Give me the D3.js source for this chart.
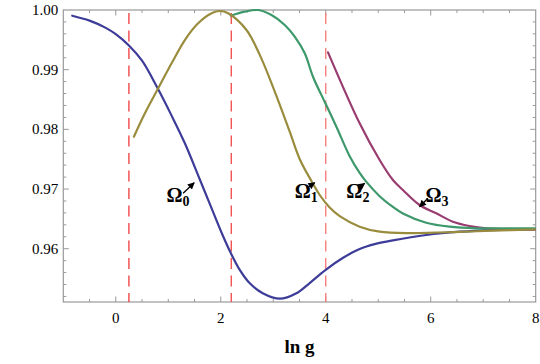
<!DOCTYPE html>
<html><head><meta charset="utf-8">
<script src="https://cdn.jsdelivr.net/npm/d3@7"></script>
<style>body{margin:0;background:#fff}svg{display:block}</style>
</head><body>
<script>
// ---- data ----
const xTicks = [0, 2, 4, 6, 8];
const yTicks = [0.96, 0.97, 0.98, 0.99, 1.00];
const dashedX = [0.25, 2.2, 4.0];

const omega0 = [[-0.83,0.99904],[-0.5,0.99822],[-0.2,0.99705],[0.0,0.99595],[0.25,0.99405],[0.5,0.9915],[0.79,0.987],[1.063,0.9823],[1.316,0.97766],[1.601,0.9716],[1.824,0.9668],[2.02,0.9626],[2.191,0.95927],[2.362,0.95645],[2.553,0.9542],[2.8,0.95255],[3.124,0.95162],[3.441,0.95253],[3.694,0.95425],[3.993,0.95643],[4.323,0.95844],[4.646,0.95995],[4.95,0.9608],[5.28,0.9614],[5.915,0.9623],[6.549,0.96285],[7.177,0.96313],[8.0,0.96325]];
const omega1 = [[0.345,0.97877],[0.555,0.98269],[0.808,0.98688],[1.063,0.99107],[1.316,0.99497],[1.569,0.99777],[1.824,0.99945],[1.982,0.99983],[2.14,0.99945],[2.49,0.99665],[2.743,0.99248],[3.029,0.98633],[3.314,0.9796],[3.505,0.975],[3.727,0.97135],[3.885,0.969],[4.075,0.9669],[4.266,0.96545],[4.646,0.96369],[5.027,0.96285],[5.598,0.96262],[6.549,0.96282],[7.177,0.96302],[8.0,0.96325]];
const omega2 = [[2.191,0.99904],[2.458,0.99972],[2.711,1.0],[2.966,0.99916],[3.219,0.99749],[3.409,0.99553],[3.6,0.99274],[3.757,0.98882],[3.993,0.98437],[4.203,0.98044],[4.456,0.9755],[4.646,0.9727],[4.774,0.9712],[5.027,0.9688],[5.28,0.967],[5.47,0.9659],[5.915,0.96436],[6.359,0.96369],[6.867,0.96342],[8.0,0.96342]];
const omega3 = [[4.043,0.99291],[4.646,0.98101],[5.027,0.97486],[5.28,0.97151],[5.47,0.96984],[5.788,0.96732],[6.106,0.96593],[6.422,0.96452],[6.739,0.9638],[7.057,0.96342],[8.0,0.96325]];

const labels = [
  {sub:"0", x:0.968, y:0.96788, ax0:[1.283,0.96928], ax1:[1.493,0.97106]},
  {sub:"1", x:3.409, y:0.96845, ax0:[3.632,0.97012], ax1:[3.79,0.97106]},
  {sub:"2", x:4.393, y:0.96845, ax0:[4.614,0.97012], ax1:[4.741,0.97096]},
  {sub:"3", x:5.902, y:0.96788, ax0:[5.946,0.96845], ax1:[5.788,0.96704]}
];

// ---- layout ----
const W = 540, H = 364;
const L = 63.3, R = 535.7, T = 10, B = 302;
const x = d3.scaleLinear().domain([-1, 8]).range([L, R]);
const y = d3.scaleLinear().domain([0.95107, 1.0]).range([B, T]);

const svg = d3.select("body").append("svg").attr("width", W).attr("height", H);
const serif = "'Liberation Serif','DejaVu Serif',serif";

const defs = svg.append("defs");
defs.append("clipPath").attr("id","clip")
  .append("rect").attr("x", L).attr("y", T-1).attr("width", R-L).attr("height", B-T+1);
defs.append("marker").attr("id","arr")
  .attr("viewBox","0 0 10 10").attr("refX",9).attr("refY",5)
  .attr("markerWidth",8).attr("markerHeight",7).attr("markerUnits","userSpaceOnUse")
  .attr("orient","auto")
  .append("path").attr("d","M0,0L10,5L0,10z").attr("fill","#000");

// frame
const frameCol = "#999";
svg.append("rect").attr("x", L).attr("y", T).attr("width", R-L).attr("height", B-T)
  .attr("fill","none").attr("stroke", frameCol).attr("stroke-width", 1.2);

// ticks (inward on all sides)
const xMinor = d3.range(-0.5, 8.01, 0.5).filter(v => v > -1 && v < 8);
const yMinor = d3.range(0.952, 1.0001, 0.002).filter(v => v < 0.9999);
const tg = svg.append("g").attr("stroke", frameCol).attr("stroke-width", 1);
xMinor.forEach(v => {
  const major = xTicks.some(t => Math.abs(t - v) < 1e-6);
  const len = major ? 5.5 : 3;
  tg.append("line").attr("x1", x(v)).attr("x2", x(v)).attr("y1", B).attr("y2", B - len);
  tg.append("line").attr("x1", x(v)).attr("x2", x(v)).attr("y1", T).attr("y2", T + len);
});
yMinor.forEach(v => {
  const major = yTicks.some(t => Math.abs(t - v) < 1e-6);
  const len = major ? 5.5 : 3;
  tg.append("line").attr("x1", L).attr("x2", L + len).attr("y1", y(v)).attr("y2", y(v));
  tg.append("line").attr("x1", R).attr("x2", R - len).attr("y1", y(v)).attr("y2", y(v));
});

// tick labels
svg.append("g").selectAll("text").data(xTicks).join("text")
  .attr("x", d => x(d)).attr("y", B + 21).attr("text-anchor","middle")
  .attr("font-family", serif).attr("font-size", 15).text(d => d);
svg.append("g").selectAll("text").data(yTicks).join("text")
  .attr("x", L - 5).attr("y", d => y(d) + 5).attr("text-anchor","end")
  .attr("font-family", serif).attr("font-size", 15).text(d => d.toFixed(2));

// axis title
svg.append("text").attr("x", (L+R)/2).attr("y", 353).attr("text-anchor","middle")
  .attr("font-family", serif).attr("font-weight","bold").attr("font-size", 19).text("ln g");

// dashed lines
const dashCols = ["#f03a3a", "#f24646", "#f77474"];
svg.append("g").selectAll("line").data(dashedX).join("line")
  .attr("x1", d => x(d)).attr("x2", d => x(d)).attr("y1", T + 3).attr("y2", B)
  .attr("stroke", (d,i) => dashCols[i]).attr("stroke-width", 1.3)
  .attr("stroke-dasharray", "11,6.5");

// curves
const smooth = d3.line().x(d => x(d[0])).y(d => y(d[1])).curve(d3.curveCatmullRom.alpha(0.5));
const cg = svg.append("g").attr("clip-path","url(#clip)").attr("fill","none")
  .attr("stroke-width", 2.2).attr("stroke-linejoin","round").attr("stroke-linecap","round");
cg.append("path").attr("d", smooth(omega0)).attr("stroke", "#3d3d99");
cg.append("path").attr("d", smooth(omega3)).attr("stroke", "#993d71");
cg.append("path").attr("d", smooth(omega2)).attr("stroke", "#3d996b");
cg.append("path").attr("d", smooth(omega1)).attr("stroke", "#998c3d");

// labels with arrows
labels.forEach(l => {
  const t = svg.append("text").attr("x", x(l.x)).attr("y", y(l.y))
    .attr("font-family", serif).attr("font-weight","bold").attr("font-size", 20);
  t.append("tspan").text("Ω");
  t.append("tspan").attr("font-size", 14).attr("dy", 4).text(l.sub);
  svg.append("line")
    .attr("x1", x(l.ax0[0])).attr("y1", y(l.ax0[1]))
    .attr("x2", x(l.ax1[0])).attr("y2", y(l.ax1[1]))
    .attr("stroke","#000").attr("stroke-width", 1.3).attr("marker-end","url(#arr)");
});
</script>
</body></html>
